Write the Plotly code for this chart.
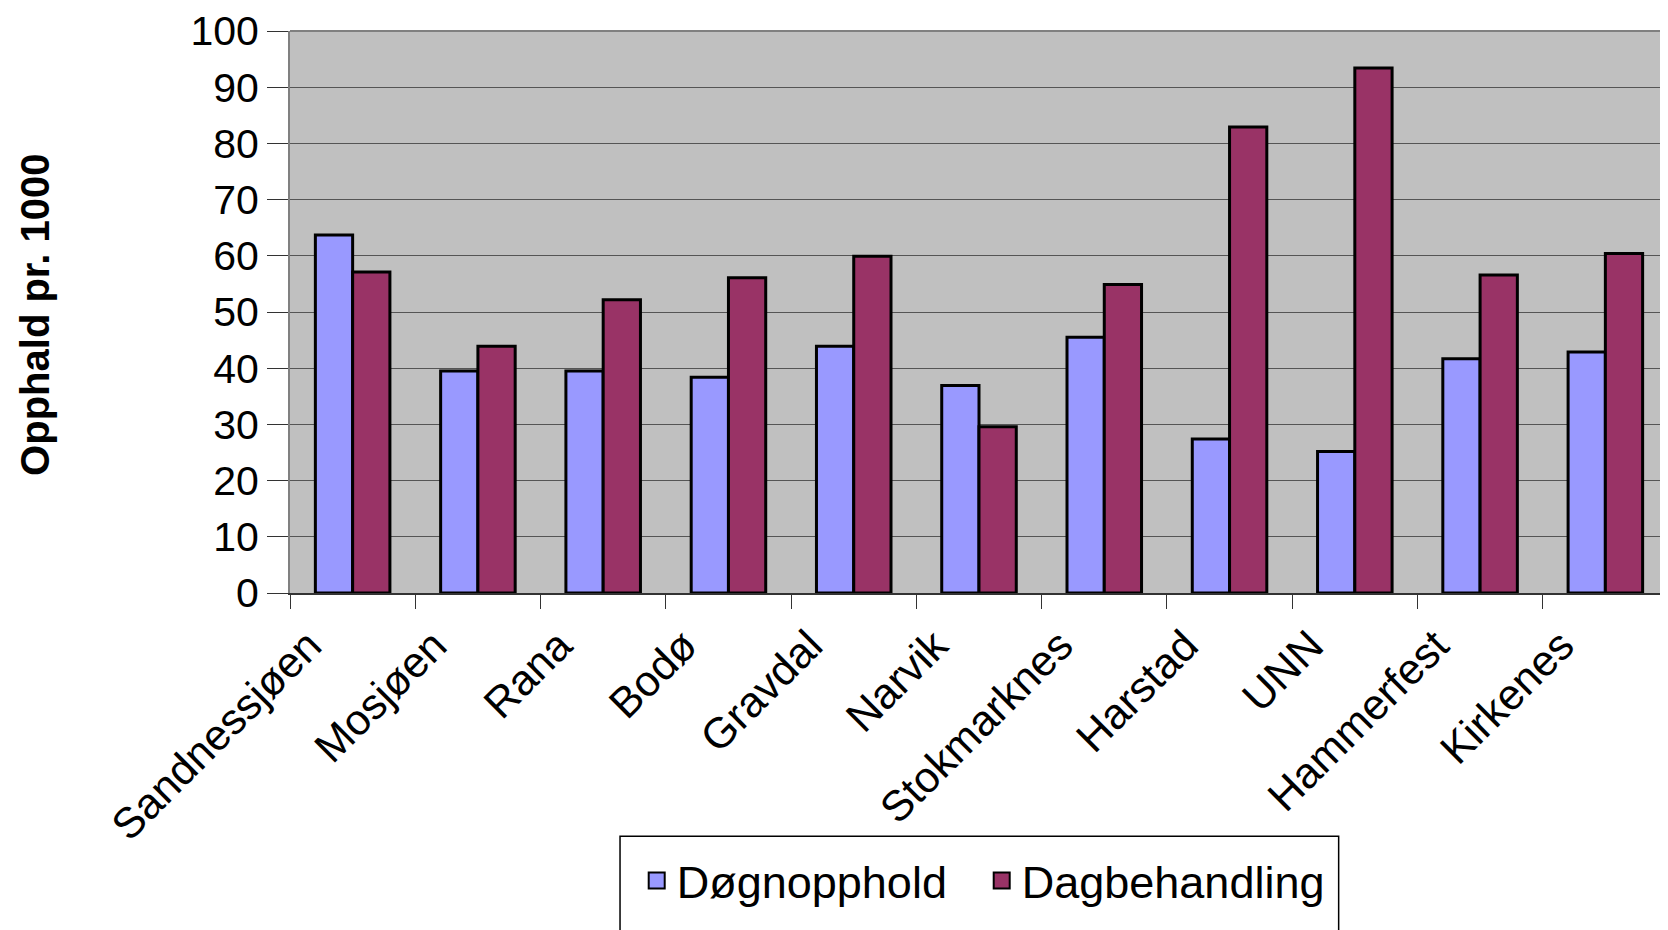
import plotly.graph_objects as go

categories = ["Sandnessjøen", "Mosjøen", "Rana", "Bodø", "Gravdal", "Narvik",
              "Stokmarknes", "Harstad", "UNN", "Hammerfest", "Kirkenes"]
dognopphold = [63.7, 39.5, 39.5, 38.4, 43.9, 36.9, 45.5, 27.4, 25.2, 41.7, 42.9]
dagbehandling = [57.1, 43.9, 52.2, 56.1, 59.9, 29.6, 54.9, 82.9, 93.4, 56.6, 60.4]
series_names = ["Døgnopphold", "Dagbehandling"]
y_ticks = list(range(0, 101, 10))

FONT = "Liberation Sans, Arial, sans-serif"
COLORS = ["#9999FF", "#993366"]

fig = go.Figure()
for name, vals, col in zip(series_names, [dognopphold, dagbehandling], COLORS):
    fig.add_trace(go.Bar(name=name, x=categories, y=vals, showlegend=False,
                         marker=dict(color=col, line=dict(color="black", width=3))))
# legend entries (larger square swatches)
for name, col in zip(series_names, COLORS):
    fig.add_trace(go.Scatter(name=name, x=[None], y=[None], mode="markers",
                             marker=dict(symbol="square", size=16, color=col,
                                         line=dict(color="black", width=2)),
                             showlegend=True))

fig.update_layout(
    width=1660, height=922,
    margin=dict(l=282, r=0, t=17, b=337),
    paper_bgcolor="white",
    plot_bgcolor="#C0C0C0",
    barmode="group",
    bargap=0.405,
    bargroupgap=0,
    font=dict(family=FONT, color="black"),
    showlegend=True,
    legend=dict(
        orientation="h",
        x=0.2516, xanchor="left",
        y=-0.512, yanchor="middle",
        font=dict(size=45, family=FONT),
        entrywidth=300,
        borderwidth=0,
        bgcolor="rgba(0,0,0,0)",
    ),
)

fig.update_yaxes(
    range=[0, 100],
    tickvals=y_ticks,
    ticktext=[str(v) for v in y_ticks],
    tickfont=dict(size=41, family=FONT),
    ticklabeloverflow="allow",
    showgrid=True, gridcolor="#555555", gridwidth=1.2,
    ticks="outside", ticklen=21, tickcolor="#333333",
    showline=True, linecolor="#808080", linewidth=2,
    zeroline=False,
)
fig.update_xaxes(
    tickfont=dict(size=43, family=FONT),
    tickangle=-45,
    ticks="outside", ticklen=14, tickcolor="#333333",
    tickson="boundaries",
    ticklabelshift=-44,
    ticklabelstandoff=8,
    ticklabeloverflow="allow",
    showline=True, linecolor="#333333", linewidth=2,
    mirror=False,
)
# y-axis title
fig.add_annotation(text="<b>Opphald pr. 1000</b>", xref="paper", yref="paper",
                   x=-0.185, y=0.495, xanchor="center", yanchor="middle",
                   textangle=-90, showarrow=False,
                   font=dict(size=40, family=FONT, color="black"))
# top border of plot area
fig.add_shape(type="line", xref="paper", yref="paper", x0=0, x1=1, y0=1, y1=1,
              line=dict(color="#808080", width=2))
# legend frame (runs off the bottom edge as in the original)
fig.add_shape(type="rect", xref="paper", yref="paper",
              x0=0.2395, x1=0.761, y0=-0.433, y1=-0.75,
              line=dict(color="black", width=1.5), fillcolor="rgba(0,0,0,0)")

fig.write_html("out.html")
